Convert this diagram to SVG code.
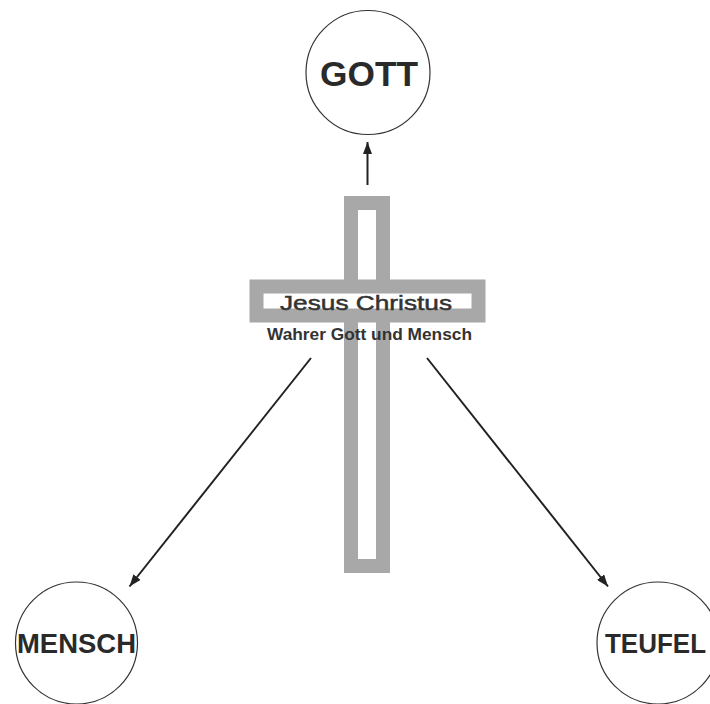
<svg xmlns="http://www.w3.org/2000/svg" width="710" height="704" viewBox="0 0 710 704">
<defs>
<style>
.node circle{fill:#fff;stroke:#333;stroke-width:1.2}
.lbl{font-family:"Liberation Sans",Arial,sans-serif;font-weight:bold;fill:#2a2a2a;text-anchor:middle}
.beam{fill:#fff;stroke:#a8a8a8;stroke-width:14}
.conn line{stroke:#222;stroke-width:2}
</style>
<marker id="ah" viewBox="0 0 12 9" refX="12" refY="4.5" markerWidth="12" markerHeight="9" markerUnits="userSpaceOnUse" orient="auto">
<path d="M0,0 L12,4.5 L0,9 z" fill="#222"/>
</marker>
</defs>
<rect width="710" height="704" fill="#fff"/>
<g id="cross">
<rect class="beam" x="351" y="203" width="32" height="363"/>
<rect class="beam" x="256.5" y="286.5" width="222" height="29" stroke-width="13"/>
<text x="366" y="310" font-family="'Liberation Sans',Arial,sans-serif" font-size="21" fill="#333" stroke="#333" stroke-width="0.5" text-anchor="middle" textLength="172" lengthAdjust="spacingAndGlyphs">Jesus Christus</text>
<text x="369.5" y="340" font-family="'Liberation Sans',Arial,sans-serif" font-weight="bold" font-size="17" fill="#333" text-anchor="middle" textLength="205" lengthAdjust="spacingAndGlyphs">Wahrer Gott und Mensch</text>
</g>
<g id="gott" class="node">
<circle cx="368" cy="72.5" r="62"/>
<text class="lbl" x="369" y="86" font-size="35" textLength="98" lengthAdjust="spacingAndGlyphs">GOTT</text>
</g>
<g id="mensch" class="node">
<circle cx="76.5" cy="643" r="61"/>
<text class="lbl" x="76.5" y="653" font-size="28" textLength="119" lengthAdjust="spacingAndGlyphs">MENSCH</text>
</g>
<g id="teufel" class="node">
<circle cx="658" cy="643" r="61"/>
<text class="lbl" x="655.5" y="653" font-size="28" textLength="101" lengthAdjust="spacingAndGlyphs">TEUFEL</text>
</g>
<g id="connectors" class="conn">
<line x1="367.5" y1="185" x2="367.5" y2="142" marker-end="url(#ah)"/>
<line x1="311" y1="358" x2="129.5" y2="586.5" marker-end="url(#ah)"/>
<line x1="427" y1="358" x2="608" y2="586.5" marker-end="url(#ah)"/>
</g>
</svg>
